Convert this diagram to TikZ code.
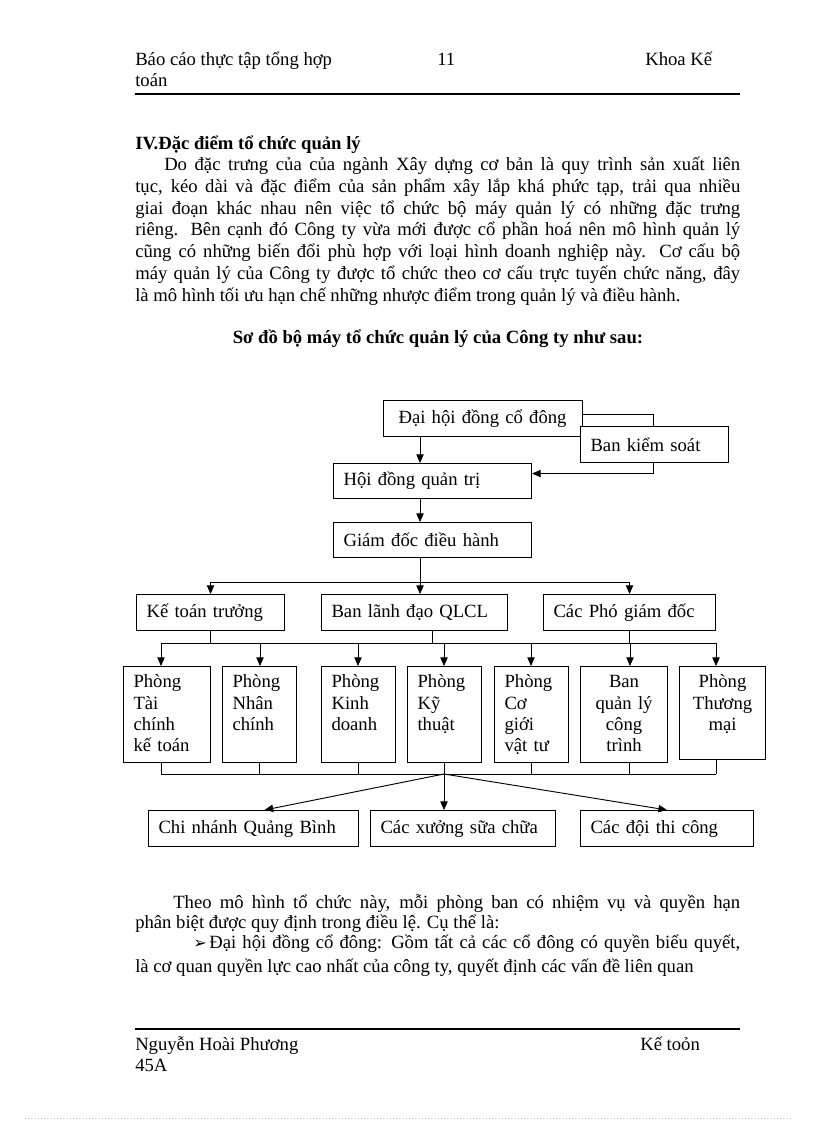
\documentclass[tikz,border=0pt]{standalone}
\usepackage{fontspec}
\setmainfont{Liberation Serif}
\newfontfamily\symfont{DejaVu Sans}
\usetikzlibrary{arrows.meta}

\tikzset{
  txt/.style={anchor=base west,inner sep=0pt},
  bold/.style={font=\fontsize{14pt}{16.1pt}\selectfont\bfseries},
  box/.style={draw,line width=0.8pt,fill=white,anchor=north west,inner xsep=7.5pt,inner ysep=0pt,align=left},
  dept/.style={box,text height=15.75pt,text depth=56.25pt},
  conn/.style={line width=0.7pt}
}

\begin{document}
\begin{tikzpicture}[x=0.75pt,y=-0.75pt,>={Triangle[length=6.5pt,width=5.5pt]},
  every node/.style={font=\fontsize{14pt}{16.1pt}\selectfont}]
\fill[white] (0,0) rectangle (816,1123);
\useasboundingbox (0,0) rectangle (816,1123);

% header
\node[txt] (hdrl) at (135,66) {Báo cáo thực tập tổng hợp};
\node[txt] (hdrn) at (437,66) {11};
\node[txt] (hdrr) at (645,66) {Khoa Kế};
\node[txt] (hdrl2) at (135,87) {toán};
\draw[line width=1.8pt] (135,94) -- (740,94);

% text above the chart
\node[txt,bold] (sec) at (135,150) {IV.Đặc điểm tổ chức quản lý};
\node[txt] (par1) at (164,171) {\hbox to 432pt{Do đặc trưng của của ngành Xây dựng cơ bản là quy trình sản xuất liên}};
\node[txt] (par2) at (135,192.7) {\hbox to 453.75pt{tục, kéo dài và đặc điểm của sản phẩm xây lắp khá phức tạp, trải qua nhiều}};
\node[txt] (par3) at (135,214.4) {\hbox to 453.75pt{giai đoạn khác nhau nên việc tổ chức bộ máy quản lý có những đặc trưng}};
\node[txt] (par4) at (135,236) {\hbox to 453.75pt{riêng. Bên cạnh đó Công ty vừa mới được cổ phần hoá nên mô hình quản lý}};
\node[txt] (par5) at (135,257.8) {\hbox to 453.75pt{cũng có những biến đổi phù hợp với loại hình doanh nghiệp này. Cơ cấu bộ}};
\node[txt] (par6) at (135,279.5) {\hbox to 453.75pt{máy quản lý của Công ty được tổ chức theo cơ cấu trực tuyến chức năng, đây}};
\node[txt] (par7) at (135,301) {là mô hình tối ưu hạn chế những nhược điểm trong quản lý và điều hành.};
\node[bold,anchor=base,inner sep=0pt] (title) at (438,343) {Sơ đồ bộ máy tổ chức quản lý của Công ty như sau:};

% chart: top levels
\node[box,inner xsep=11.25pt,text width=126.75pt,minimum height=27pt] (dhcd) at (383,400) {Đại hội đồng cổ đông};
\node[box,text width=133.5pt,minimum height=26.25pt] (hdqt) at (333,463) {Hội đồng quản trị};
\coordinate (bkturn) at (653,414);
\draw[conn,->] (dhcd.east |- bkturn) -- (bkturn) |- ([yshift=5.6pt]hdqt.east);
\node[box,text width=96pt,minimum height=27pt] (bks) at (580,426) {Ban kiểm soát};
\node[box,text width=133.5pt,minimum height=26.25pt] (gddh) at (333,522) {Giám đốc điều hành};

\node[box,text width=96pt,minimum height=27pt] (ktt) at (136,594) {Kế toán trưởng};
\node[box,text width=124.5pt,minimum height=27pt] (bld) at (321,594) {Ban lãnh đạo QLCL};
\node[box,text width=114pt,minimum height=27pt] (pgd) at (543,594) {Các Phó giám đốc};

\coordinate (spine) at (420,0);
\draw[conn,->] (dhcd.south -| spine) -- (hdqt.north -| spine);
\draw[conn,->] (hdqt.south -| spine) -- (gddh.north -| spine);
\coordinate (bus1) at (420,582);
\draw[conn,->] (gddh.south -| spine) -- (bld.north -| spine);
\draw[conn,->] (bus1) -| (ktt.north);
\draw[conn,->] (bus1) -| (pgd.north);

% chart: departments
\node[dept,text width=50.25pt] (p1) at (123,666) {Phòng\\Tài\\chính\\kế toán};
\node[dept,text width=40.5pt] (p2) at (222,666) {Phòng\\Nhân\\chính};
\node[dept,text width=40.5pt] (p3) at (321,666) {Phòng\\Kinh\\doanh};
\node[dept,text width=40.5pt] (p4) at (407,666) {Phòng\\Kỹ\\thuật};
\node[dept,text width=40.5pt] (p5) at (494,666) {Phòng\\Cơ\\giới\\vật tư};
\node[dept,text width=50.25pt,align=center] (p6) at (580,666) {Ban\\quản lý\\công\\trình};
\node[dept,text width=49.5pt,align=center,text depth=54pt] (p7) at (679,666) {Phòng\\Thương\\mại};

\coordinate (bus2w) at (161,643);
\coordinate (bus2e) at (717,643);
\draw[conn] (bus2w) -- (bus2e);
\draw[conn] (ktt.south) -- (ktt.south |- bus2w);
\draw[conn] ([xshift=13.5pt]bld.south) -- ([xshift=13.5pt]bld.south |- bus2w);
\draw[conn] (pgd.south) -- (pgd.south |- bus2w);
\foreach \n/\x in {p1/161,p2/260,p3/358,p4/444,p5/531,p6/630,p7/716}
  \draw[conn,->] (\x,643) -- (\n.north -| \x,0);

% chart: bottom level
\node[box,text width=142.5pt,minimum height=27pt] (cn) at (148,810) {Chi nhánh Quảng Bình};
\node[box,text width=123.75pt,minimum height=27pt] (cx) at (370,810) {Các xưởng sữa chữa};
\node[box,text width=114.75pt,minimum height=27pt] (cd) at (580,810) {Các đội thi công};

\coordinate (bus3w) at (161,774);
\coordinate (bus3e) at (716,774);
\coordinate (hub) at (444,774);
\draw[conn] (bus3w) -- (bus3e);
\foreach \n/\x in {p1/161,p2/259,p3/358,p4/444,p5/531,p6/629,p7/716}
  \draw[conn] (\n.south -| \x,0) -- (\x,774);
\draw[conn,->] (hub) -- ([xshift=8.25pt]cn.north);
\draw[conn,->] (hub) -- (cx.north -| hub);
\draw[conn,->] (hub) -- (cd.north);

% text below the chart
\node[txt] (theo1) at (173,908) {\hbox to 425.25pt{Theo mô hình tổ chức này, mỗi phòng ban có nhiệm vụ và quyền hạn}};
\node[txt] (theo2) at (135,928) {phân biệt được quy định trong điều lệ. Cụ thể là:};
\node[txt] (bul1) at (193,948) {\hbox to 410.25pt{{\symfont\fontsize{12pt}{14pt}\selectfont ➢}\hspace{2pt}Đại hội đồng cổ đông: Gồm tất cả các cổ đông có quyền biểu quyết,}};
\node[txt] (bul2) at (135,972) {là cơ quan quyền lực cao nhất của công ty, quyết định các vấn đề liên quan};

% footer
\draw[line width=1.8pt] (135,1029) -- (740,1029);
\node[txt] (ftl) at (135,1050) {Nguyễn Hoài Phương};
\node[txt] (ftr) at (640,1050) {Kế toỏn};
\node[txt] (ftl2) at (135,1071) {45A};
\draw[gray!50,dotted] (25,1118) -- (790,1118);
\end{tikzpicture}
\end{document}
